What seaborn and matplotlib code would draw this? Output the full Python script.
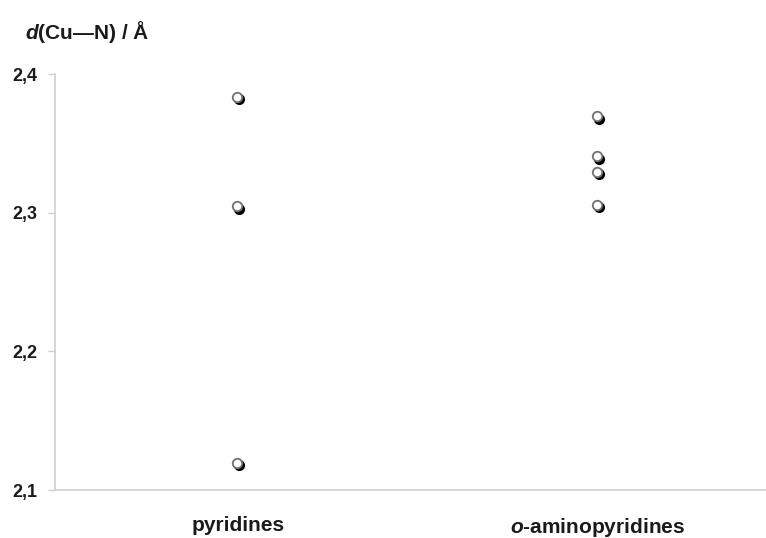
import pandas as pd
import numpy as np
import seaborn as sns
import matplotlib
matplotlib.use('Agg')
import matplotlib.pyplot as plt
from matplotlib.transforms import offset_copy

# Cu-N distances
categories = ["pyridines", r"$\mathit{o}$-aminopyridines"]
pyridines = [2.383, 2.304, 2.119]
aminopyridines = [2.369, 2.340, 2.329, 2.305]
yticks = [2.1, 2.2, 2.3, 2.4]
ytick_labels = ["2,1", "2,2", "2,3", "2,4"]

df = pd.DataFrame({
    "group": [categories[0]] * len(pyridines) + [categories[1]] * len(aminopyridines),
    "d": pyridines + aminopyridines,
})

sns.set_style("white")
plt.rcParams['font.family'] = ['Liberation Sans', 'DejaVu Sans']
plt.rcParams['mathtext.fontset'] = 'custom'
plt.rcParams['mathtext.it'] = 'Liberation Sans:bold:italic'
plt.rcParams['mathtext.rm'] = 'Liberation Sans:bold'

fig = plt.figure(figsize=(7.66, 5.38), dpi=100)
ax = fig.add_axes([55 / 766, 48 / 538, 711 / 766, 416 / 538])

# shadow layer, then the white "ball" on top
sns.stripplot(data=df, x="group", y="d", order=categories, jitter=False,
              color="black", size=8, linewidth=0, ax=ax, zorder=3)
n_shadow = len(ax.collections)
sns.stripplot(data=df, x="group", y="d", order=categories, jitter=False,
              color="white", size=6.8, linewidth=1.3, edgecolor="#707070",
              ax=ax, zorder=4)
for i, coll in enumerate(ax.collections):
    if i < n_shadow:
        coll.set_offset_transform(offset_copy(ax.transData, fig=fig, x=1.1, y=-1.1, units='points'))
    else:
        coll.set_offset_transform(offset_copy(ax.transData, fig=fig, x=-0.6, y=0.6, units='points'))

ax.set_xlim(-0.508, 1.467)
ax.set_ylim(2.1, 2.4)
ax.set_yticks(yticks)
ax.set_yticklabels(ytick_labels)
ax.set_xlabel("")
ax.set_ylabel("")

for side in ["top", "right"]:
    ax.spines[side].set_visible(False)
for side in ["left", "bottom"]:
    ax.spines[side].set_color("#cfcfcf")
    ax.spines[side].set_linewidth(1.2)

ax.tick_params(axis="y", left=True, length=5, width=1, color="#cfcfcf",
               labelsize=13, pad=8)
ax.tick_params(axis="x", bottom=False, labelsize=15, pad=15)
for lab in ax.get_yticklabels() + ax.get_xticklabels():
    lab.set_fontweight("bold")
    lab.set_color("#1a1a1a")

fig.text(25 / 766, 1 - 32 / 538, r"$\mathit{d}$(Cu—N) / Å", fontsize=15,
         fontweight="bold", color="#1a1a1a", va="center")

plt.savefig("out.png", dpi=100)
plt.close()
